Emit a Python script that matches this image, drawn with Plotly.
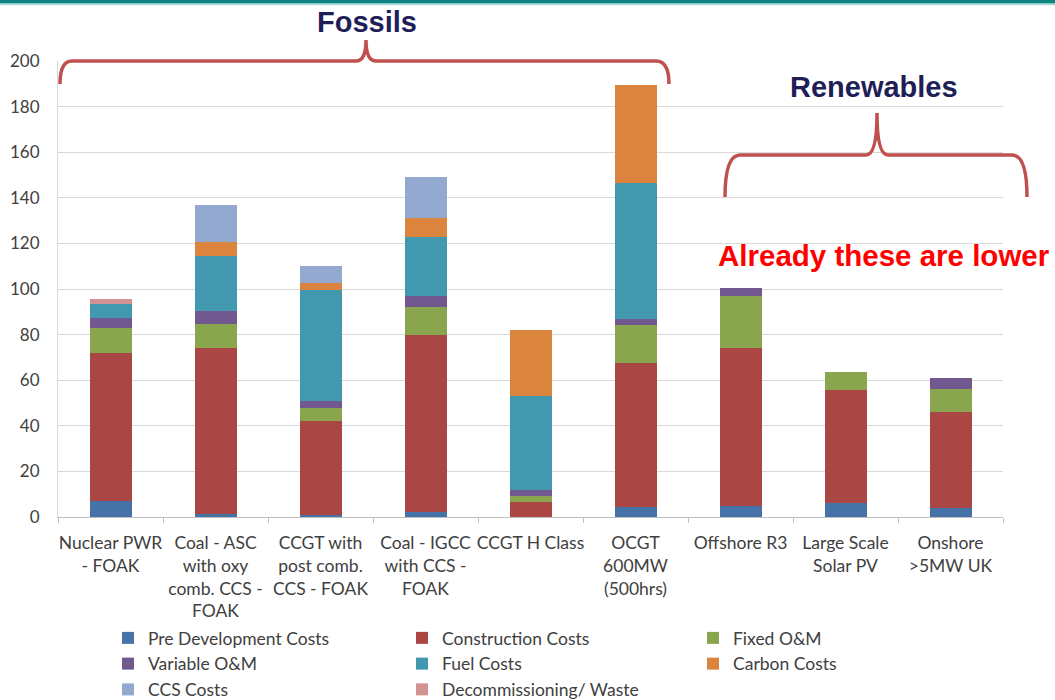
import plotly.graph_objects as go

categories = [
    "Nuclear PWR<br>- FOAK",
    "Coal - ASC<br>with oxy<br>comb. CCS -<br>FOAK",
    "CCGT with<br>post comb.<br>CCS - FOAK",
    "Coal - IGCC<br>with CCS -<br>FOAK",
    "CCGT H Class",
    "OCGT<br>600MW<br>(500hrs)",
    "Offshore R3",
    "Large Scale<br>Solar PV",
    "Onshore<br>>5MW UK",
]

pre_development = [7, 1.5, 1, 2, 0, 4.5, 5, 6, 4]
construction = [65, 72.5, 41, 78, 6.5, 63, 69, 49.5, 42]
fixed_om = [11, 10.5, 6, 12, 2.5, 16.5, 23, 8, 10]
variable_om = [4.5, 6, 3, 5, 3, 3, 3.5, 0, 5]
fuel = [6, 24, 48.5, 26, 41, 59.5, 0, 0, 0]
carbon = [0, 6, 3, 8, 29, 43, 0, 0, 0]
ccs = [0, 16.5, 7.5, 18, 0, 0, 0, 0, 0]
decommissioning = [2, 0, 0, 0, 0, 0, 0, 0, 0]

series = [
    ("Pre Development Costs", pre_development, "#4572A7", "legend"),
    ("Construction Costs", construction, "#AA4643", "legend2"),
    ("Fixed O&M", fixed_om, "#89A54E", "legend3"),
    ("Variable O&M", variable_om, "#71588F", "legend"),
    ("Fuel Costs", fuel, "#4198AF", "legend2"),
    ("Carbon Costs", carbon, "#DB843D", "legend3"),
    ("CCS Costs", ccs, "#93A9CF", "legend"),
    ("Decommissioning/ Waste", decommissioning, "#D19392", "legend2"),
]

W, H = 1055, 700
# plot area in window pixels: x 58..1003, y 61..517
L, T = 58, 61
R = W - 1003
B = H - 517
PW, PH = W - L - R, H - T - B


def px(x):  # window pixel -> paper x
    return (x - L) / PW


def py(y):  # window pixel -> paper y
    return (H - B - y) / PH


def cx(x):  # window pixel -> container x
    return x / W


def cy(y):  # window pixel -> container y
    return 1 - y / H


fig = go.Figure()
for name, vals, color, lg in series:
    fig.add_trace(go.Bar(
        x=categories, y=vals, name=name, legend=lg, legendgroup=name,
        marker=dict(color=color, line=dict(width=0)),
    ))

TEXT = "#404040"
FONT = "Lato"

legend_common = dict(
    orientation="v", traceorder="normal", tracegroupgap=1,
    font=dict(family=FONT, size=17.5, color=TEXT),
    bgcolor="rgba(0,0,0,0)", yanchor="top", xanchor="left",
    xref="container", yref="container",
    itemclick=False, itemdoubleclick=False,
)

brace_color = "#C0504D"
fossils_path = (
    f"M{px(60)},{py(84)} Q{px(60)},{py(61)} {px(72)},{py(61)} "
    f"L{px(356)},{py(61)} Q{px(366)},{py(61)} {px(366)},{py(40)} "
    f"Q{px(366)},{py(61)} {px(376)},{py(61)} "
    f"L{px(656)},{py(61)} Q{px(669)},{py(61)} {px(669)},{py(84)}"
)
renew_path = (
    f"M{px(725)},{py(197)} Q{px(725)},{py(155)} {px(740)},{py(155)} "
    f"L{px(866)},{py(155)} Q{px(877)},{py(155)} {px(877)},{py(113)} "
    f"Q{px(877)},{py(155)} {px(888)},{py(155)} "
    f"L{px(1012)},{py(155)} Q{px(1027)},{py(155)} {px(1027)},{py(197)}"
)

fig.update_layout(
    width=W, height=H,
    margin=dict(l=L, r=R, t=T, b=B, autoexpand=False),
    paper_bgcolor="white", plot_bgcolor="white",
    barmode="stack", bargap=0.6,
    font=dict(family=FONT, color=TEXT),
    showlegend=True,
    legend=dict(legend_common, x=cx(108), y=cy(620)),
    legend2=dict(legend_common, x=cx(402), y=cy(620)),
    legend3=dict(legend_common, x=cx(693), y=cy(620)),
    xaxis=dict(
        type="category", tickson="boundaries", ticks="outside", ticklen=5,
        tickcolor="#BFBFBF", showline=True, linecolor="#BFBFBF", linewidth=1,
        tickfont=dict(family=FONT, size=17.5, color=TEXT), tickangle=0,
        showgrid=False, automargin=False, ticklabelstandoff=10,
    ),
    yaxis=dict(
        range=[0, 200], dtick=20, showgrid=True, gridcolor="#D9D9D9",
        gridwidth=1, showline=True, linecolor="#D9D9D9", zeroline=False,
        ticks="", tickfont=dict(family=FONT, size=17, color=TEXT),
        ticklabelstandoff=14, automargin=False,
    ),
    shapes=[
        dict(type="rect", xref="paper", yref="paper", x0=px(0), x1=px(W),
             y0=py(0), y1=py(3.5), fillcolor="#0F8282", line=dict(width=0),
             layer="above"),
        dict(type="line", xref="paper", yref="paper", x0=px(0), x1=px(W),
             y0=py(4.5), y1=py(4.5), line=dict(color="#A8D8D8", width=1.5)),
        dict(type="path", xref="paper", yref="paper", path=fossils_path,
             line=dict(color=brace_color, width=3.5)),
        dict(type="path", xref="paper", yref="paper", path=renew_path,
             line=dict(color=brace_color, width=3.5)),
    ],
    annotations=[
        dict(text="<b>Fossils</b>", xref="paper", yref="paper",
             x=px(367), y=py(22), xanchor="center", yanchor="middle",
             showarrow=False,
             font=dict(family="Liberation Sans", size=29, color="#1F1F57")),
        dict(text="<b>Renewables</b>", xref="paper", yref="paper",
             x=px(874), y=py(87), xanchor="center", yanchor="middle",
             showarrow=False,
             font=dict(family="Liberation Sans", size=29, color="#1F1F57")),
        dict(text="<b>Already these are lower</b>", xref="paper", yref="paper",
             x=px(884), y=py(255), xanchor="center", yanchor="middle",
             showarrow=False,
             font=dict(family="Liberation Sans", size=29.5, color="#FF0000")),
    ],
)

# remove the page's default 8px body margin so the figure fills the window
fig.write_html(
    "out.html",
    config={"displayModeBar": False},
    post_script="document.body.style.margin='0';",
)
